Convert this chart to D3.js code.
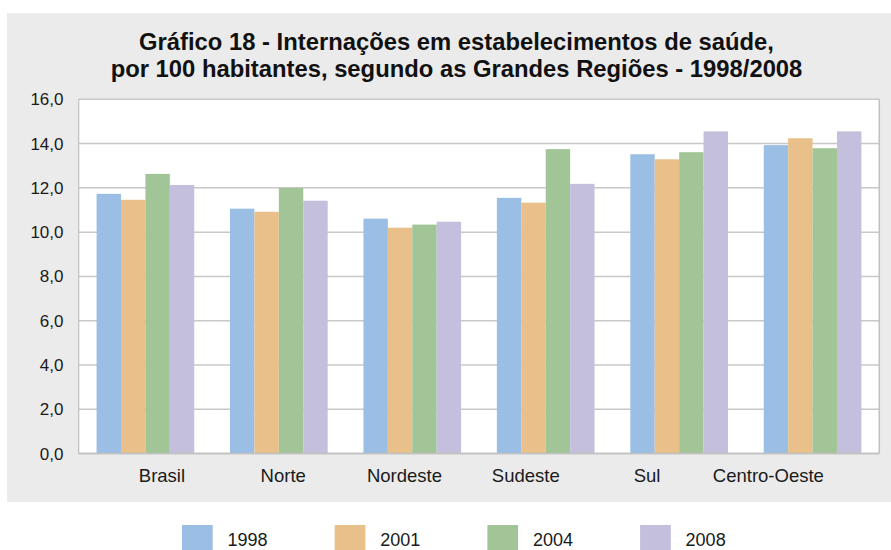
<!DOCTYPE html>
<html><head><meta charset="utf-8">
<script src="https://cdn.jsdelivr.net/npm/d3@7"></script>
<style>body{margin:0;background:#fff}svg{display:block}</style>
</head><body>
<svg id="c" width="891" height="550"></svg>
<script>
const regions = ["Brasil","Norte","Nordeste","Sudeste","Sul","Centro-Oeste"];
const years = ["1998","2001","2004","2008"];
const v1998 = [11.73, 11.06, 10.61, 11.55, 13.52, 13.93];
const v2001 = [11.46, 10.92, 10.20, 11.33, 13.29, 14.24];
const v2004 = [12.63, 12.00, 10.34, 13.75, 13.61, 13.79];
const v2008 = [12.13, 11.42, 10.47, 12.18, 14.55, 14.55];
const yTicks = [0,2,4,6,8,10,12,14,16];
const titleLines = ["Gráfico 18 - Internações em estabelecimentos de saúde,",
                    "por 100 habitantes, segundo as Grandes Regiões - 1998/2008"];
const colors = ["#9bbfe4","#e9c089","#a1c596","#c4bfdd"];
const series = [v1998, v2001, v2004, v2008];

const svg = d3.select("#c");
const font = "'Liberation Sans', Arial, sans-serif";
svg.append("rect").attr("x",7).attr("y",13).attr("width",884).attr("height",489).attr("fill","#ebebeb");

const L=78.7, R=879.3, T=99.3, B=453.5;
const x0 = d3.scaleBand().domain(regions).range([L,R]).paddingInner(0.268).paddingOuter(0.134);
const x1 = d3.scaleBand().domain(years).range([0,x0.bandwidth()]);
const y = d3.scaleLinear().domain([0,16]).range([B,T]);
const xl = d3.scaleBand().domain(regions).range([101.3,829]);

svg.append("rect").attr("x",L).attr("y",T).attr("width",R-L).attr("height",B-T).attr("fill","#fff");

// grid
svg.append("g").selectAll("line").data(yTicks).join("line")
  .attr("x1",L).attr("x2",R).attr("y1",d=>y(d)).attr("y2",d=>y(d))
  .attr("stroke","#c8c8c8").attr("stroke-width",1.5);
svg.append("line").attr("x1",L).attr("x2",L).attr("y1",T).attr("y2",B).attr("stroke","#c0c0c0").attr("stroke-width",1.2);
svg.append("line").attr("x1",R).attr("x2",R).attr("y1",T).attr("y2",B).attr("stroke","#c0c0c0").attr("stroke-width",1.5);

// bars
const g = svg.append("g");
regions.forEach((r,i)=>{
  g.append("g").attr("transform",`translate(${x0(r)},0)`)
   .selectAll("rect").data(years.map((yr,k)=>({yr,v:series[k][i],k}))).join("rect")
   .attr("x",d=>x1(d.yr)).attr("width",x1.bandwidth())
   .attr("y",d=>y(d.v)).attr("height",d=>y(0)-y(d.v)).attr("fill",d=>colors[d.k]);
});
svg.append("line").attr("x1",L).attr("x2",R).attr("y1",B).attr("y2",B).attr("stroke","#c0c0c0").attr("stroke-width",1.5);

// y labels
const fmt = d => d3.format(".1f")(d).replace(".",",");
svg.append("g").selectAll("text").data(yTicks).join("text")
  .attr("x",63.5).attr("y",d=>y(d)+6).attr("text-anchor","end")
  .attr("font-family",font).attr("font-size",17).attr("fill","#1a1a1a").text(fmt);

// x labels
svg.append("g").selectAll("text").data(regions).join("text")
  .attr("x",d=>xl(d)+xl.bandwidth()/2).attr("y",481.7).attr("text-anchor","middle")
  .attr("font-family",font).attr("font-size",18.5).attr("fill","#1a1a1a").text(d=>d);

// title
svg.append("g").selectAll("text").data(titleLines).join("text")
  .attr("x",456.5).attr("y",(d,i)=>49.5+i*27).attr("text-anchor","middle")
  .attr("font-family",font).attr("font-weight","bold").attr("font-size",23.8).attr("fill","#111").text(d=>d);

// legend
const lg = svg.append("g").selectAll("g").data(years).join("g")
  .attr("transform",(d,i)=>`translate(${182+i*152.7},525)`);
lg.append("rect").attr("width",30.7).attr("height",27).attr("fill",(d,i)=>colors[i]);
lg.append("text").attr("x",45.5).attr("y",21).attr("font-family",font).attr("font-size",18)
  .attr("fill","#1a1a1a").text(d=>d);
</script>
</body></html>
